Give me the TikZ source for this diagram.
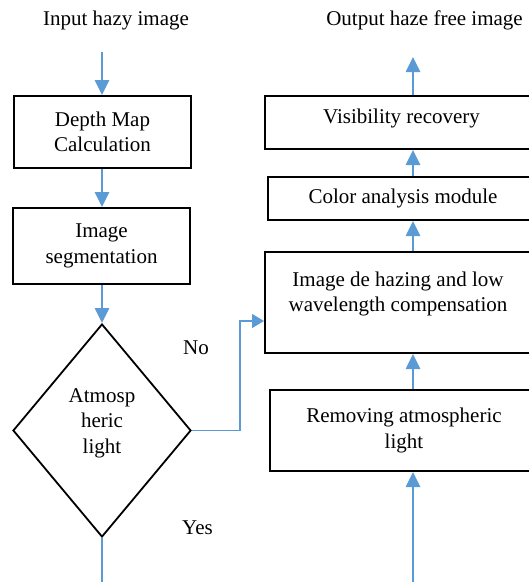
\documentclass[tikz,border=0pt]{standalone}
\usepackage{fontspec}
\setmainfont{Liberation Serif}
\usetikzlibrary{shapes.geometric,arrows.meta}
\definecolor{arrblue}{HTML}{5B9BD5}
\begin{document}
\begin{tikzpicture}[x=1pt,y=-1pt,
  every node/.style={font=\fontsize{21}{25.5}\selectfont, align=center, inner sep=0pt},
  box/.style={draw=black, line width=2pt, rectangle},
  dia/.style={draw=black, line width=1.8pt, shape=diamond},
  arr/.style={draw=arrblue, line width=2.6pt, -{Triangle[width=14pt,length=15pt]}},
  thinarr/.style={draw=arrblue, line width=1.2pt, -{Triangle[width=14pt,length=12pt]}},
  thinline/.style={draw=arrblue, line width=1.2pt}]
\useasboundingbox (0,0) rectangle (529,582);
\clip (0,0) rectangle (529,582);
% left column
\node (input) at (116,20) {Input hazy image};
\node[box, minimum width=177pt, minimum height=72pt] (depth) at (102.5,132) {Depth Map\\Calculation};
\node[box, minimum width=177pt, minimum height=76pt] (seg) at (101.5,246) {Image\\segmentation};
\node[dia, minimum width=178pt, minimum height=213pt] (dec) at (102,430.5) {};
\node (dectext) at (102,423) {Atmosp\\heric\\light};
\node (no) at (196,348) {No};
\node (yes) at (197.5,528) {Yes};
% right column
\node (output) at (424.5,20) {Output haze free image};
\node[box, minimum width=273pt, minimum height=53pt] (vis) at (401.5,122.5) {};
\node (vistext) at (401.5,118) {Visibility recovery};
\node[box, minimum width=270pt, minimum height=43pt] (color) at (403,198.5) {Color analysis module};
\node[box, minimum width=267pt, minimum height=101pt] (dehaze) at (398.5,302.5) {};
\node (dehazetext) at (398,294) {Image de hazing and low\\wavelength compensation};
\node[box, minimum width=268pt, minimum height=81pt] (remove) at (404,430.5) {Removing atmospheric\\light};
% coordinates
\coordinate (a1) at (102,52);
\coordinate (cx) at (413,0);
\coordinate (outtip) at (413,57);
\coordinate (decout) at (102,590);
\coordinate (rin) at (413,590);
\coordinate (bend) at (240,430.5);
% connectors
\draw[arr] (a1) -- (a1 |- depth.north);
\draw[arr] (depth.south -| a1) -- (seg.north -| a1);
\draw[arr] (seg.south -| a1) -- (dec.north);
\draw[thinarr] (dec.east) -- (bend) |- ([yshift=-18.5pt]dehaze.west);
\draw[thinline] (dec.south) -- (decout);
\draw[arr] (rin) -- (remove.south -| cx);
\draw[arr] (remove.north -| cx) -- (dehaze.south -| cx);
\draw[arr] (dehaze.north -| cx) -- (color.south -| cx);
\draw[arr] (color.north -| cx) -- (vis.south -| cx);
\draw[arr] (vis.north -| cx) -- (outtip);
\end{tikzpicture}
\end{document}
